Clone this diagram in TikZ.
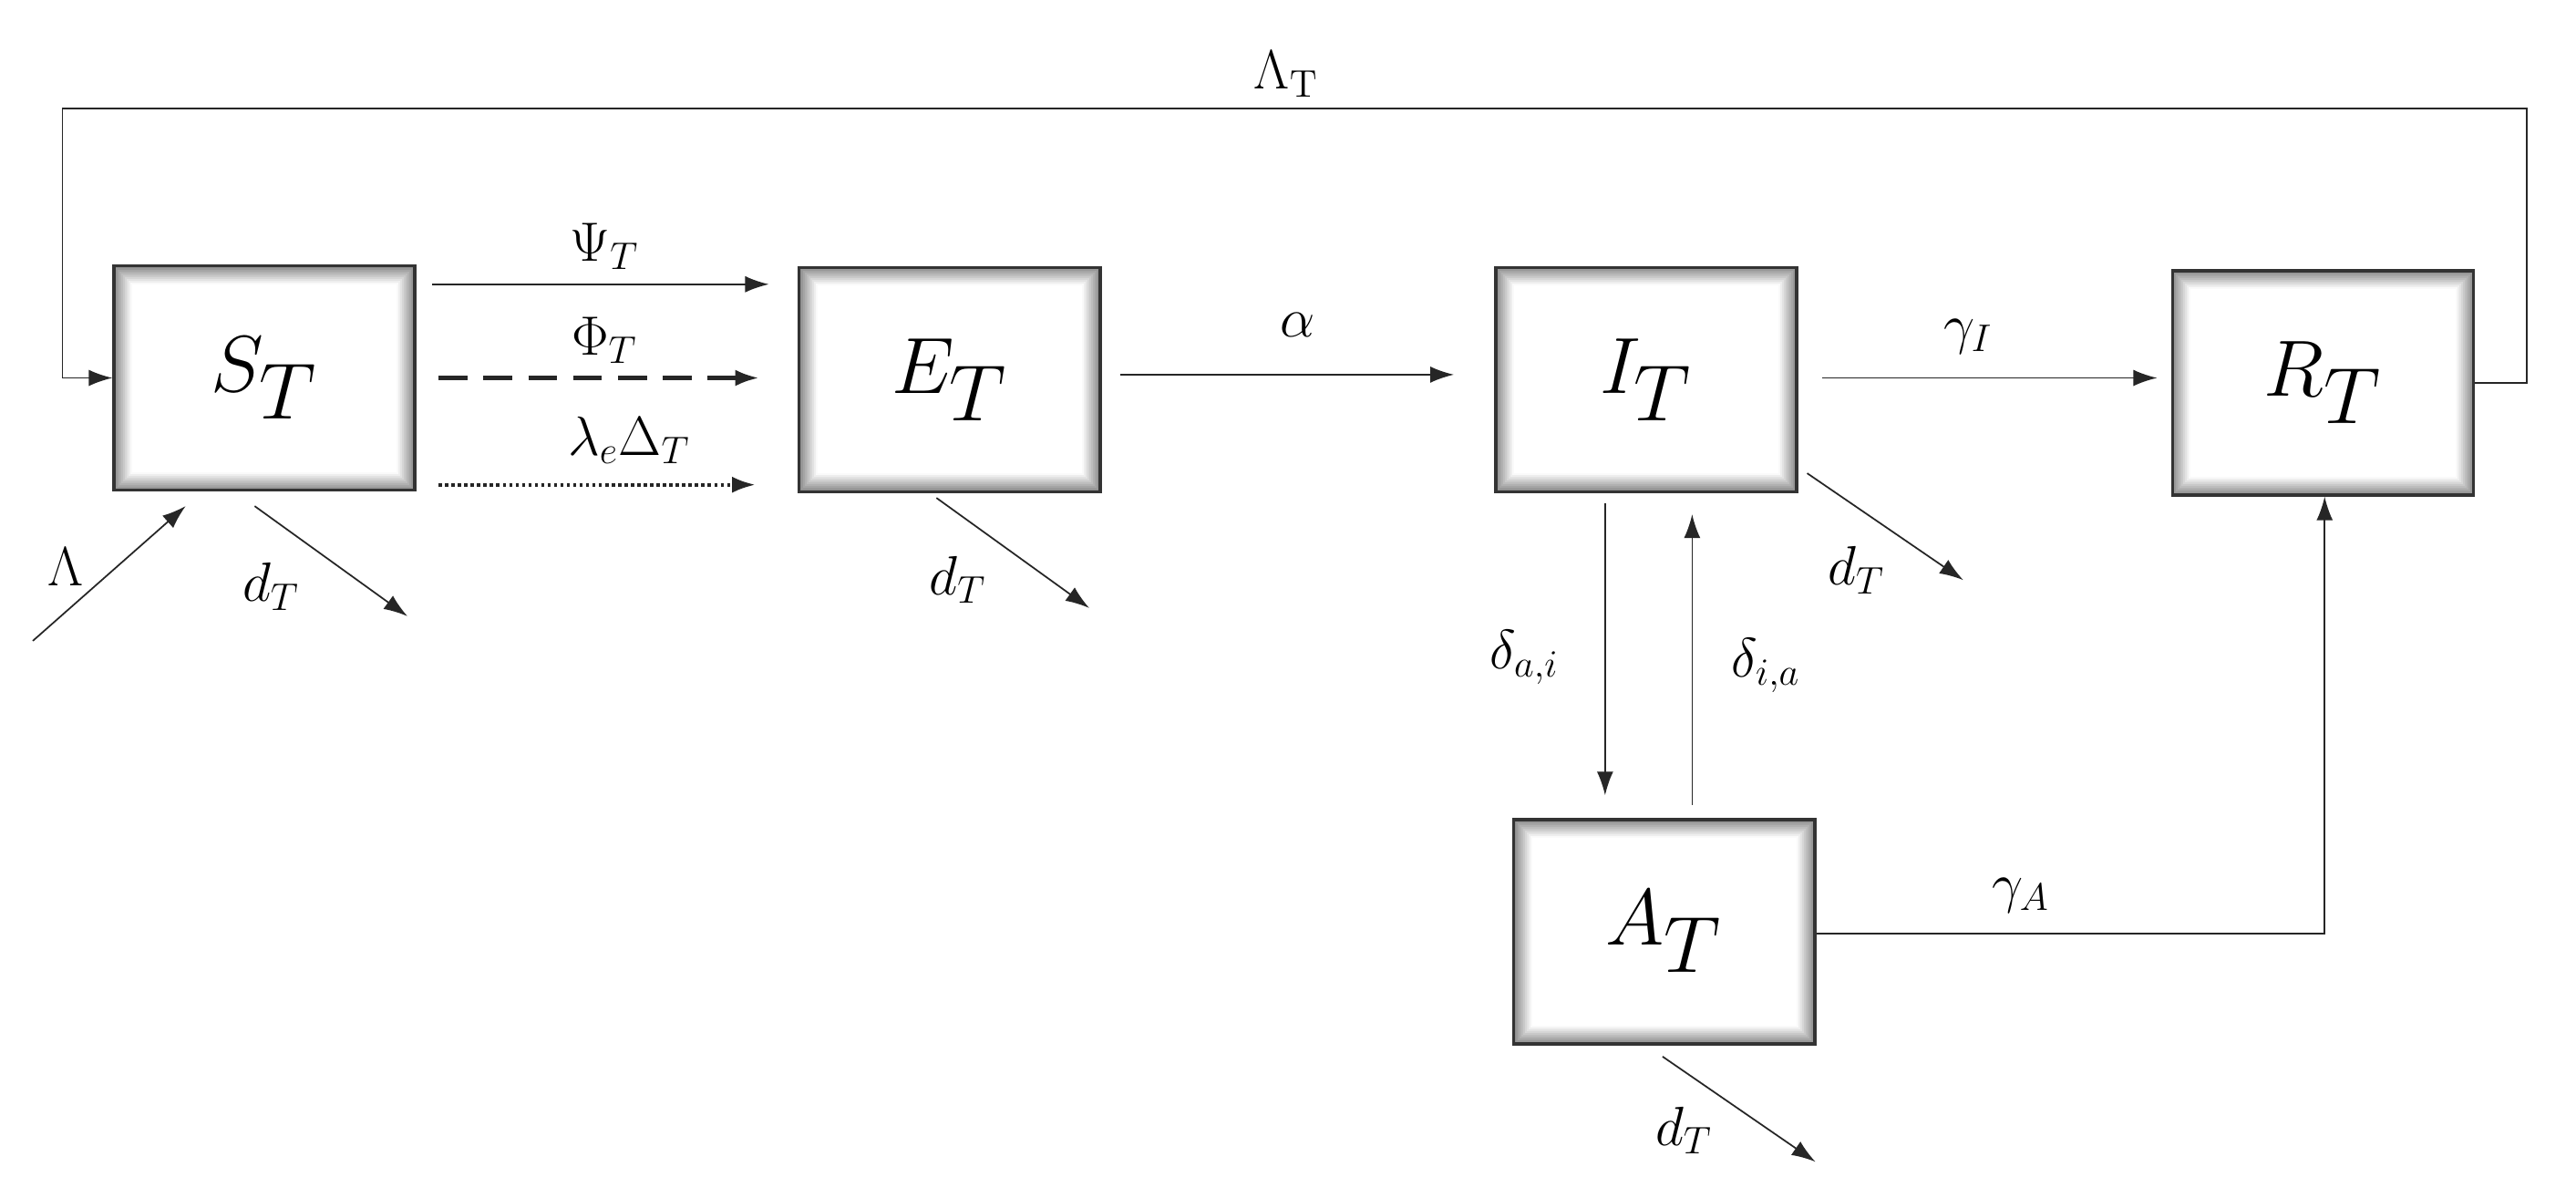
\documentclass[tikz,border=0pt]{standalone}
\usetikzlibrary{arrows.meta}
\begin{document}
\begin{tikzpicture}[x=0.1802mm,y=-0.1802mm,
  box/.style={minimum width=33mm,minimum height=24.6mm,inner sep=0pt,draw=black!80,line width=1pt,
    path picture={
      \foreach \i in {0,...,9}{
        \pgfmathsetmacro{\c}{45-\i*4.8}
        \fill[black!\c] ([xshift=\i*0.2mm,yshift=\i*0.2mm]path picture bounding box.south west) rectangle ([xshift=-\i*0.2mm,yshift=-\i*0.2mm]path picture bounding box.north east);}
      \fill[white] ([xshift=2mm,yshift=2mm]path picture bounding box.south west) rectangle ([xshift=-2mm,yshift=-2mm]path picture bounding box.north east);
    },
    font=\fontsize{44}{50}\selectfont},
  ar/.style={-{Latex[length=2.6mm,width=1.8mm]},line width=0.5pt,black!85},
  lab/.style={font=\fontsize{17}{20}\selectfont,inner sep=0pt}]
\useasboundingbox (0,0) rectangle (1568,729);
\node[box] (S) at (161,230) {$S_T$};
\node[box] (E) at (578,231) {$E_T$};
\node[box] (I) at (1002,231) {$I_T$};
\node[box] (R) at (1414,233) {$R_T$};
\node[box] (A) at (1013,567) {$A_T$};
% top loop
\coordinate (r1) at (1538,233);
\coordinate (r2) at (1538,66);
\coordinate (r3) at (38,66);
\coordinate (r4) at (38,230);
\draw[ar] (R.east |- r1) -- (r1) -- (r2) -- (r3) -- (r4) -- (S.west |- r4);
\node[lab] (LT) at (783,45) {$\Lambda_{\mathrm{T}}$};
% S->E
\coordinate (p1) at (263,173); \coordinate (p2) at (468,173);
\draw[ar] (p1) -- (p2);
\node[lab] (psi) at (368,150) {$\Psi_T$};
\coordinate (f1) at (267,230); \coordinate (f2) at (462,230);
\draw[ar,dash pattern=on 9pt off 5pt,line width=1.2pt] (f1) -- (f2);
\node[lab] (phi) at (368,207) {$\Phi_T$};
\coordinate (l1) at (267,295); \coordinate (l2) at (460,295);
\draw[ar,dash pattern=on 1pt off 1pt,line width=1.2pt] (l1) -- (l2);
\node[lab] (lam) at (383,268) {$\lambda_e\Delta_T$};
% E->I
\coordinate (a1) at (682,228); \coordinate (a2) at (885,228);
\draw[ar] (a1) -- (a2);
\node[lab] (al) at (790,198) {$\alpha$};
% I->R
\coordinate (g1) at (1109,230); \coordinate (g2) at (1313,230);
\draw[ar] (g1) -- (g2);
\node[lab] (gI) at (1198,205) {$\gamma_I$};
% I<->A
\coordinate (ia1) at (977,306); \coordinate (ia2) at (977,484);
\draw[ar] (ia1) -- (ia2);
\node[lab] (dai) at (928,400) {$\delta_{a,i}$};
\coordinate (ai1) at (1030,490); \coordinate (ai2) at (1030,313);
\draw[ar] (ai1) -- (ai2);
\node[lab] (dia) at (1075,405) {$\delta_{i,a}$};
% A->R
\coordinate (ar1) at (1415,568);
\draw[ar] (A.east |- ar1) -- (ar1) -- (R.south -| ar1);
\node[lab] (gA) at (1230,545) {$\gamma_A$};
% inflow
\coordinate (in0) at (20,390); \coordinate (in1) at (113,308);
\draw[ar] (in0) -- (in1);
\node[lab] (Lam) at (40,345) {$\Lambda$};
% deaths
\coordinate (ds0) at (155,308); \coordinate (ds1) at (248,375);
\draw[ar] (ds0) -- (ds1);
\node[lab] (dS) at (165,357) {$d_T$};
\coordinate (de0) at (570,303); \coordinate (de1) at (663,370);
\draw[ar] (de0) -- (de1);
\node[lab] (dE) at (583,353) {$d_T$};
\coordinate (di0) at (1100,288); \coordinate (di1) at (1195,353);
\draw[ar] (di0) -- (di1);
\node[lab] (dI) at (1130,347) {$d_T$};
\coordinate (da0) at (1012,643); \coordinate (da1) at (1105,707);
\draw[ar] (da0) -- (da1);
\node[lab] (dA) at (1025,688) {$d_T$};
\end{tikzpicture}
\end{document}
